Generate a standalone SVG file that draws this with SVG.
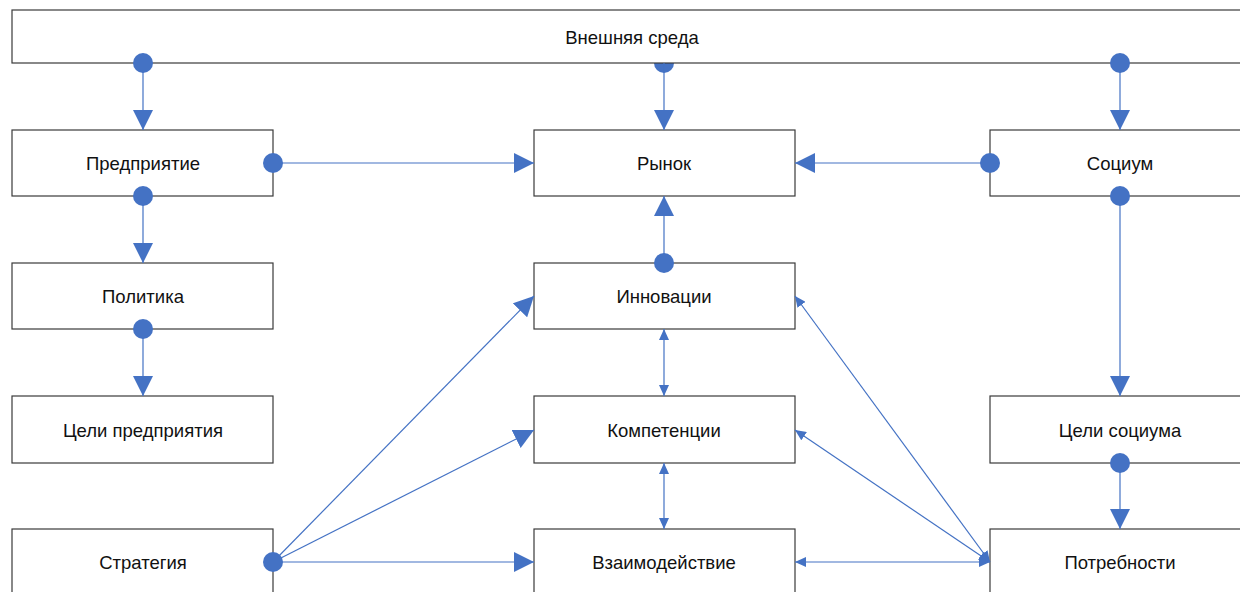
<svg xmlns="http://www.w3.org/2000/svg" width="1240" height="592" viewBox="0 0 1240 592">
<defs>
<style>
.box{fill:#fff;stroke:#3a3a3a;stroke-width:1.2}
.lbl{font-family:"Liberation Sans",Arial,sans-serif;font-size:18.5px;fill:#111;text-anchor:middle}
.ln{stroke:#4472C4;stroke-width:1.2;fill:none}
.dot{fill:#4472C4}
</style>
<marker id="big" markerUnits="userSpaceOnUse" markerWidth="20" markerHeight="20" refX="20" refY="10" orient="auto" viewBox="0 0 20 20"><path d="M0,0 L20,10 L0,20 Z" fill="#4472C4"/></marker>
<marker id="sm" markerUnits="userSpaceOnUse" markerWidth="11" markerHeight="10" refX="11" refY="5" orient="auto" viewBox="0 0 11 10"><path d="M0,0 L11,5 L0,10 Z" fill="#4472C4"/></marker>
<marker id="smS" markerUnits="userSpaceOnUse" markerWidth="11" markerHeight="10" refX="0" refY="5" orient="auto" viewBox="0 0 11 10"><path d="M11,0 L0,5 L11,10 Z" fill="#4472C4"/></marker>
</defs>
<path class="dot" d="M654,63 A10,10 0 0 0 674,63 Z"/>
<g id="n-env"><rect class="box" x="12" y="10" width="1240" height="53"/><text class="lbl" x="632" y="44">Внешняя среда</text></g>
<g id="n-ent"><rect class="box" x="12" y="130" width="261" height="66"/><text class="lbl" x="143" y="170">Предприятие</text></g>
<g id="n-pol"><rect class="box" x="12" y="263" width="261" height="66"/><text class="lbl" x="143" y="303">Политика</text></g>
<g id="n-goalE"><rect class="box" x="12" y="396" width="261" height="67"/><text class="lbl" x="143" y="437">Цели предприятия</text></g>
<g id="n-str"><rect class="box" x="12" y="529" width="261" height="70"/><text class="lbl" x="143" y="569">Стратегия</text></g>
<g id="n-mkt"><rect class="box" x="534" y="130" width="261" height="66"/><text class="lbl" x="664" y="170">Рынок</text></g>
<g id="n-inn"><rect class="box" x="534" y="263" width="261" height="66"/><text class="lbl" x="664" y="303">Инновации</text></g>
<g id="n-comp"><rect class="box" x="534" y="396" width="261" height="67"/><text class="lbl" x="664" y="437">Компетенции</text></g>
<g id="n-int"><rect class="box" x="534" y="529" width="261" height="70"/><text class="lbl" x="664" y="569">Взаимодействие</text></g>
<g id="n-soc"><rect class="box" x="990" y="130" width="262" height="66"/><text class="lbl" x="1120" y="170">Социум</text></g>
<g id="n-goalS"><rect class="box" x="990" y="396" width="262" height="67"/><text class="lbl" x="1120" y="437">Цели социума</text></g>
<g id="n-need"><rect class="box" x="990" y="529" width="262" height="70"/><text class="lbl" x="1120" y="569">Потребности</text></g>
<g id="connectors">
<line class="ln" x1="143" y1="63" x2="143" y2="130" marker-end="url(#big)"/>
<line class="ln" x1="664" y1="63" x2="664" y2="130" marker-end="url(#big)"/>
<line class="ln" x1="1120" y1="63" x2="1120" y2="130" marker-end="url(#big)"/>
<line class="ln" x1="273" y1="163" x2="534" y2="163" marker-end="url(#big)"/>
<line class="ln" x1="990" y1="163" x2="795" y2="163" marker-end="url(#big)"/>
<line class="ln" x1="664" y1="263" x2="664" y2="196" marker-end="url(#big)"/>
<line class="ln" x1="143" y1="196" x2="143" y2="263" marker-end="url(#big)"/>
<line class="ln" x1="143" y1="329" x2="143" y2="396" marker-end="url(#big)"/>
<line class="ln" x1="1120" y1="196" x2="1120" y2="396" marker-end="url(#big)"/>
<line class="ln" x1="1120" y1="463" x2="1120" y2="529" marker-end="url(#big)"/>
<line class="ln" x1="273" y1="562" x2="534" y2="296" marker-end="url(#big)"/>
<line class="ln" x1="273" y1="562" x2="534" y2="430" marker-end="url(#big)"/>
<line class="ln" x1="273" y1="562" x2="534" y2="562" marker-end="url(#big)"/>
<line class="ln" x1="664" y1="329" x2="664" y2="396" marker-start="url(#smS)" marker-end="url(#sm)"/>
<line class="ln" x1="664" y1="463" x2="664" y2="529" marker-start="url(#smS)" marker-end="url(#sm)"/>
<line class="ln" x1="990" y1="562" x2="795" y2="296" marker-start="url(#smS)" marker-end="url(#sm)"/>
<line class="ln" x1="990" y1="562" x2="795" y2="430" marker-start="url(#smS)" marker-end="url(#sm)"/>
<line class="ln" x1="990" y1="562" x2="795" y2="562" marker-start="url(#smS)" marker-end="url(#sm)"/>
<circle class="dot" cx="143" cy="63" r="10"/>
<circle class="dot" cx="1120" cy="63" r="10"/>
<circle class="dot" cx="273" cy="163" r="10"/>
<circle class="dot" cx="990" cy="163" r="10"/>
<circle class="dot" cx="143" cy="196" r="10"/>
<circle class="dot" cx="664" cy="263" r="10"/>
<circle class="dot" cx="1120" cy="196" r="10"/>
<circle class="dot" cx="143" cy="329" r="10"/>
<circle class="dot" cx="1120" cy="463" r="10"/>
<circle class="dot" cx="273" cy="562" r="10"/>
</g>
</svg>
